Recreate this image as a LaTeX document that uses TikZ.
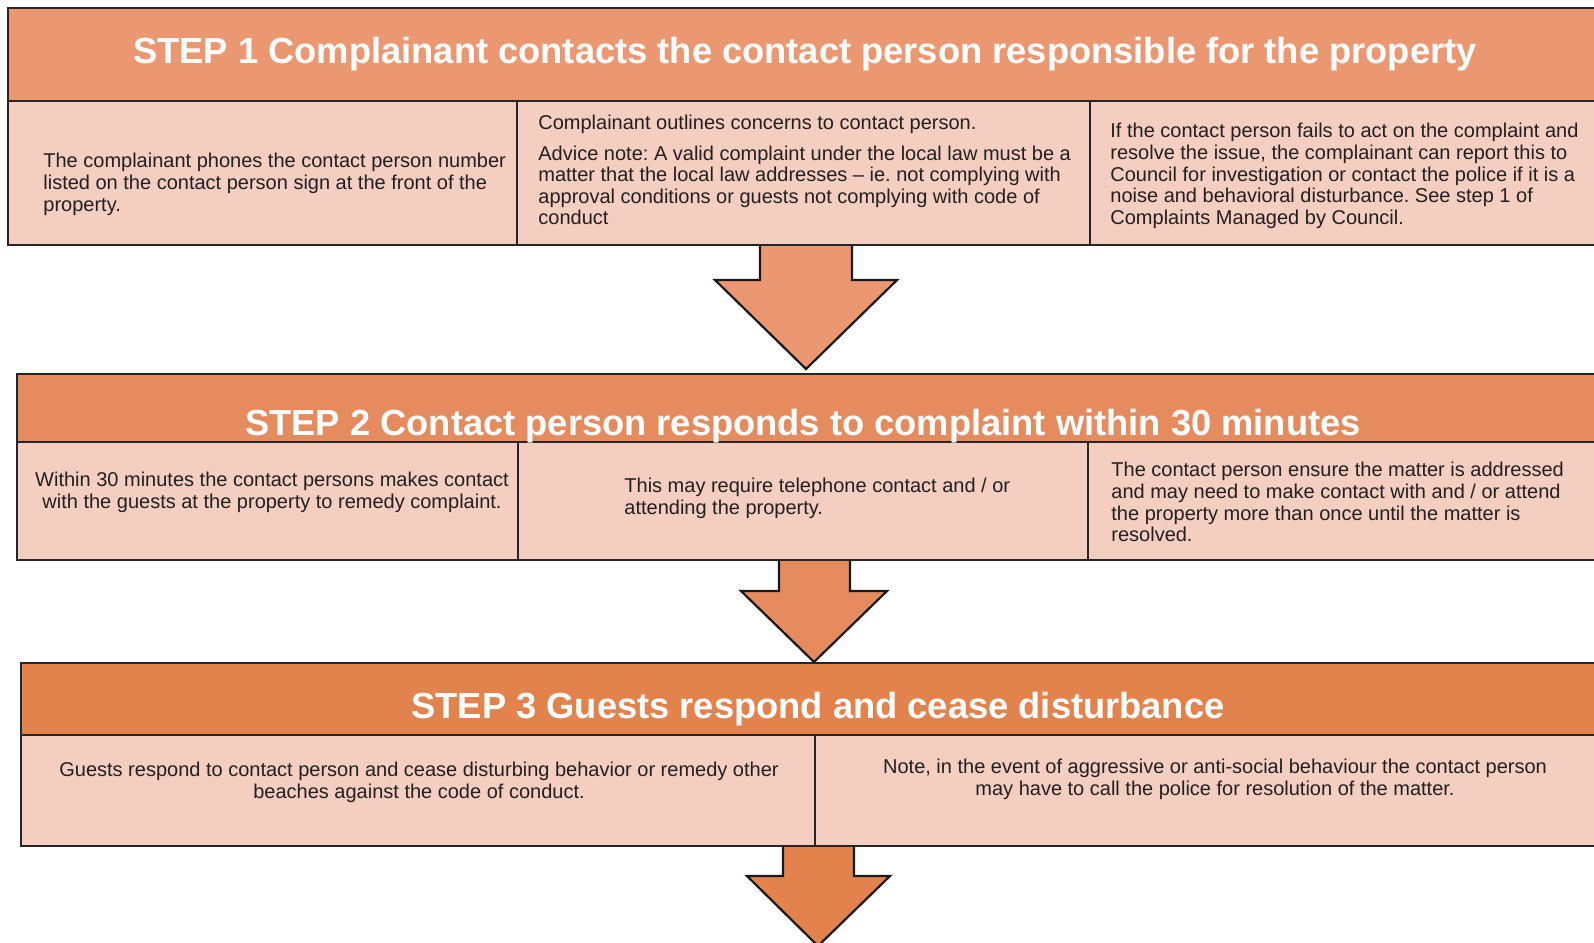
\documentclass[tikz,border=0pt]{standalone}
\usepackage{fontspec}
\setmainfont{Liberation Sans}
\usepackage{tikz}
\frenchspacing

\definecolor{headA}{HTML}{EB9872}
\definecolor{headB}{HTML}{E68B5E}
\definecolor{headC}{HTML}{E2824C}
\definecolor{cellfill}{HTML}{F4CEC1}
\definecolor{inktext}{HTML}{231F20}

\tikzset{
  headbox/.style={line width=1.1pt, draw=black!85},
  cellbox/.style={line width=1.1pt, draw=black!85, fill=cellfill},
  blockarrow/.style={line width=1.1pt, draw=black!90, line join=miter},
  title/.style={inner sep=0pt, anchor=base, text=white, font=\fontsize{18.15}{21}\selectfont\bfseries},
  body/.style={inner sep=0pt, text=inktext, font=\fontsize{10}{10.8}\selectfont}
}

\begin{document}
\begin{tikzpicture}[x=0.5pt,y=-0.5pt]

\useasboundingbox (0,0) rectangle (1594,942);
\clip (0,0) rectangle (1594,942);
\fill[white] (0,0) rectangle (1594,942);

% Down arrows (drawn first, the box borders lie over the shaft tops)
\filldraw[blockarrow, fill=headA] (760,245) -- (760,280) -- (715,280) -- (806,369) -- (897,280) -- (852,280) -- (852,245);
\filldraw[blockarrow, fill=headB] (779,560) -- (779,591) -- (741,591) -- (814,662) -- (887,591) -- (850,591) -- (850,560);
\filldraw[blockarrow, fill=headC] (783,846) -- (783,876) -- (747,876) -- (818,946) -- (890,876) -- (854,876) -- (854,846);

% Step 1
\filldraw[headbox, fill=headA] (8,8) rectangle (1610,101);
\filldraw[cellbox] (8,101) rectangle (517,245);
\filldraw[cellbox] (517,101) rectangle (1090,245);
\filldraw[cellbox] (1090,101) rectangle (1610,245);
\node[title] (t1) at (805,63) {STEP 1 Complainant contacts the contact person responsible for the property};

\node[body, anchor=north west, align=left] (s1a) at (43,153)
  {The complainant phones the contact person number\\ listed on the contact person sign at the front of the\\ property.};
\node[body, anchor=north west, align=left] (s1b) at (538,115)
  {Complainant outlines concerns to contact person.\\[4.3pt]
   Advice note: A valid complaint under the local law must be a\\ matter that the local law addresses -- ie. not complying with\\ approval conditions or guests not complying with code of\\ conduct};
\node[body, anchor=north west, align=left] (s1c) at (1110,123)
  {If the contact person fails to act on the complaint and\\ resolve the issue, the complainant can report this to\\ Council for investigation or contact the police if it is a\\ noise and behavioral disturbance. See step 1 of\\ Complaints Managed by Council.};

% Step 2
\filldraw[headbox, fill=headB] (17,374) rectangle (1610,442);
\filldraw[cellbox] (17,442) rectangle (518,560);
\filldraw[cellbox] (518,442) rectangle (1088,560);
\filldraw[cellbox] (1088,442) rectangle (1610,560);
\node[title] (t2) at (803,435) {STEP 2 Contact person responds to complaint within 30 minutes};

\node[body, anchor=north, align=center] (s2a) at (272,472)
  {Within 30 minutes the contact persons makes contact\\ with the guests at the property to remedy complaint.};
\node[body, anchor=north west, align=left] (s2b) at (624,478)
  {This may require telephone contact and / or\\ attending the property.};
\node[body, anchor=north west, align=left] (s2c) at (1111,462)
  {The contact person ensure the matter is addressed\\ and may need to make contact with and / or attend\\ the property more than once until the matter is\\ resolved.};

% Step 3
\filldraw[headbox, fill=headC] (21,663) rectangle (1610,735);
\filldraw[cellbox] (21,735) rectangle (815,846);
\filldraw[cellbox] (815,735) rectangle (1610,846);
\node[title] (t3) at (818,718) {STEP 3 Guests respond and cease disturbance};

\node[body, anchor=north, align=center] (s3a) at (419,762)
  {Guests respond to contact person and cease disturbing behavior or remedy other\\ beaches against the code of conduct.};
\node[body, anchor=north, align=center] (s3b) at (1215,759)
  {Note, in the event of aggressive or anti-social behaviour the contact person\\ may have to call the police for resolution of the matter.};

\end{tikzpicture}
\end{document}
